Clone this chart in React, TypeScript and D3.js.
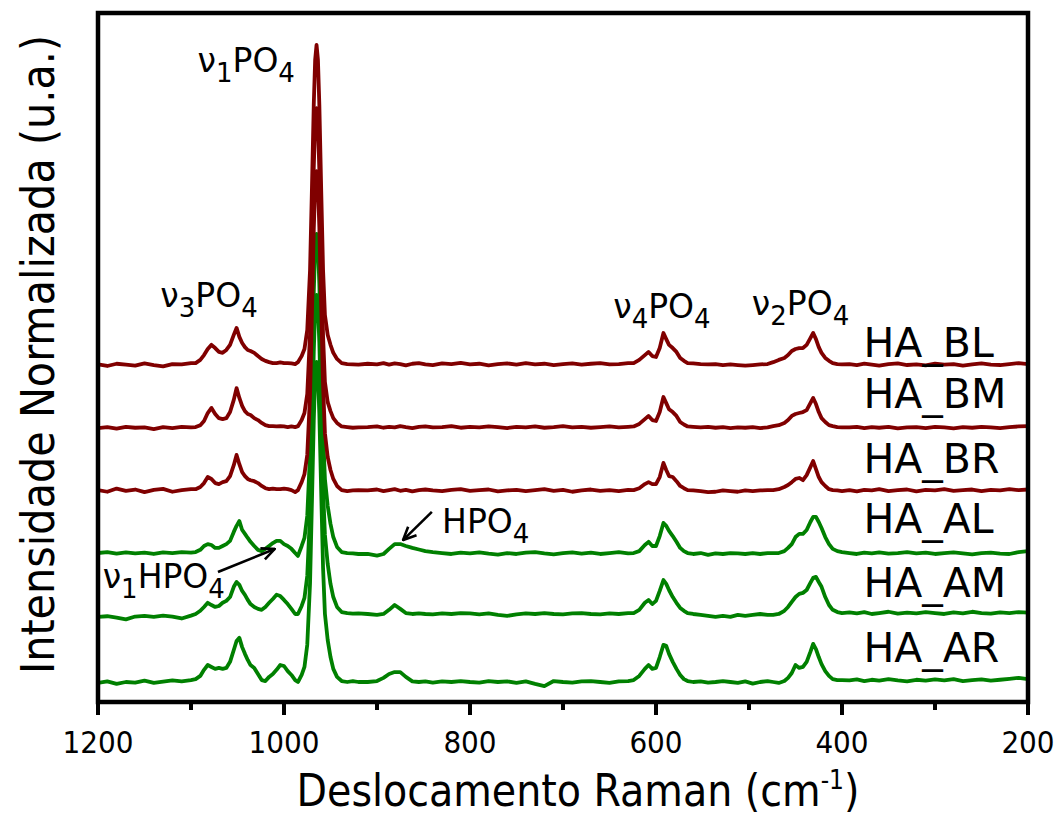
import * as d3 from 'd3';

// wavenumber grid (cm-1), shared by all spectra
const WAVENUMBER = [
  1200, 1190, 1180, 1170, 1160, 1150, 1140, 1130, 1120, 1110, 1100,
  1095, 1090, 1086, 1082, 1078, 1074, 1070, 1066, 1062, 1058, 1054, 1051, 1048, 1045, 1042,
  1039, 1036, 1032, 1028, 1024, 1020, 1016, 1012, 1008, 1004, 1000, 996, 992, 988,
  985, 981, 978, 975, 972, 970, 968, 966.5, 965, 963.5, 962, 960, 958, 956, 953, 950,
  947, 943, 938, 932, 926, 920,
  910, 900, 893, 887, 881, 875, 869, 862, 855, 848, 840, 830,
  820, 810, 800, 790, 780, 770, 760, 750, 740, 730, 720, 710, 700, 690, 680, 670, 660, 650, 640, 630,
  624, 618, 612, 608, 604, 600, 596, 592, 589, 586, 582, 578, 574, 570, 566, 560, 552, 544,
  536, 528, 520, 512, 504, 496, 488, 480,
  474, 468, 462, 458, 454, 450, 446, 442, 438, 434, 431, 428, 425, 422, 418, 414, 410, 405, 400,
  392, 384, 376, 368, 360, 350, 340, 330, 320, 310, 300, 290, 280, 270, 260, 250, 240, 230, 220, 210, 200,
];

// normalized intensity (%), relative to each spectrum's baseline
const HA_BL = [
  0.2, -0.3, 0.4, 0.1, -0.2, 0.5, 0.0, -0.4, 0.3, 0.2, 0.6,
  0.6, 1.6, 3.1, 5.0, 6.3, 5.3, 4.1, 3.8, 4.7, 6.3, 9.4, 11.6, 8.8, 6.9, 5.6,
  4.7, 4.4, 3.8, 2.8, 1.9, 1.3, 0.9, 0.6, 0.6, 0.8, 0.6, 0.6, 0.5, 0.3,
  0.9, 2.8, 5.0, 10.9, 29.7, 54.7, 81.3, 95.3, 100, 95.3, 81.3, 54.7, 29.7, 15.6, 9.4,
  6.3, 3.8, 1.9, 0.6, 0.3, 0.2, 0.1,
  0.4, 0.2, 0.6, 0.1, 0.5, 0.3, -0.1, 0.4, 0.6, 0.2, 0.0, 0.5,
  0.3, 0.7, 0.2, 0.4, -0.1, 0.3, 0.5, 0.1, 0.6, 0.2, 0.4, 0.0, 0.3, 0.5, 0.1, 0.4, 0.6, 0.2, 0.3, 0.6,
  0.6, 1.6, 3.1, 4.1, 2.8, 2.5, 5.3, 10.0, 8.1, 6.3, 5.3, 4.1, 2.2, 1.3, 0.6, 0.5, 0.3, 0.2,
  0.3, 0.0, 0.2, 0.0, -0.2, 0.0, 0.2, 0.3,
  0.9, 1.6, 2.2, 3.1, 4.4, 5.0, 5.3, 5.3, 6.3, 8.4, 10.0, 8.1, 5.6, 3.8, 2.2, 1.3, 0.6, 0.3, 0.2,
  0.3, 0.0, 0.4, 0.1, -0.2, 0.3, 0.5, 0.0, 0.2, -0.1, 0.4, 0.1, 0.3, -0.2, 0.2, 0.5, 0.1, 0.0, 0.3, 0.6, 0.3,
];
const HA_BM = [
  0.0, 0.3, -0.2, 0.4, 0.1, 0.2, -0.3, 0.3, 0.0, 0.4, 0.2,
  0.3, 0.9, 2.2, 4.7, 6.3, 4.4, 3.1, 2.8, 3.1, 5.0, 8.8, 12.5, 9.4, 6.9, 5.3,
  4.4, 4.1, 3.1, 2.5, 1.6, 0.9, 0.6, 0.6, 0.5, 0.6, 0.5, 0.3, 0.5, 0.3,
  0.6, 2.5, 4.7, 10.6, 29.4, 54.4, 81.3, 95.3, 100, 95.0, 80.6, 53.8, 28.8, 14.4, 8.1,
  5.3, 3.1, 1.6, 0.5, 0.3, 0.1, 0.2,
  0.3, 0.5, 0.1, 0.4, 0.2, 0.6, 0.3, 0.0, 0.4, 0.5, 0.2, 0.3,
  0.6, 0.1, 0.4, 0.2, 0.5, 0.3, 0.0, 0.4, 0.2, 0.5, 0.1, 0.3, 0.6, 0.2, 0.4, 0.1, 0.3, 0.5, 0.2, 0.4,
  0.5, 1.3, 2.8, 3.8, 2.5, 2.2, 5.0, 9.7, 7.8, 5.9, 5.0, 3.8, 1.9, 1.1, 0.5, 0.4, 0.2, 0.4,
  0.1, 0.3, 0.0, 0.2, 0.1, 0.3, 0.0, 0.2,
  0.6, 0.9, 1.6, 2.5, 3.8, 4.4, 4.7, 5.0, 5.6, 7.8, 9.4, 7.5, 5.0, 3.1, 1.9, 0.9, 0.6, 0.3, 0.2,
  0.2, 0.4, 0.0, 0.3, 0.1, 0.4, -0.1, 0.2, 0.3, 0.0, 0.4, 0.2, -0.1, 0.3, 0.1, 0.4, 0.2, 0.0, 0.3, 0.5, 0.6,
];
const HA_BR = [
  0.3, -0.2, 0.8, 0.1, 0.5, -0.3, 0.4, 0.7, -0.2, 0.3, 0.6,
  0.6, 1.3, 2.5, 4.4, 3.8, 2.5, 2.2, 2.8, 3.1, 4.7, 8.1, 11.3, 8.4, 5.9, 4.7,
  3.8, 3.4, 3.1, 2.5, 1.6, 0.9, 0.6, 0.8, 0.6, 0.6, 0.8, 0.6, 0.3, -0.3,
  0.3, 2.8, 5.3, 11.3, 30.0, 55.0, 81.6, 95.3, 100, 95.6, 82.5, 57.5, 33.1, 18.1, 10.6,
  6.6, 3.8, 1.6, 0.3, 0.0, 0.2, 0.3,
  0.2, 0.5, 0.0, 0.3, 0.6, 0.1, 0.4, -0.1, 0.3, 0.5, 0.2, 0.0,
  0.4, 0.6, 0.1, 0.3, 0.5, -0.1, 0.2, 0.4, 0.0, 0.3, 0.6, 0.1, 0.4, -0.2, 0.2, 0.5, 0.1, 0.3, 0.0, 0.4,
  0.3, 0.9, 2.2, 2.8, 2.2, 2.2, 4.4, 8.8, 6.6, 4.7, 4.4, 3.1, 1.6, 0.9, 0.3, 0.2, 0.0, -0.3,
  -0.2, 0.2, 0.0, -0.2, 0.2, 0.0, 0.2, 0.3,
  0.3, 0.6, 1.3, 1.9, 2.8, 3.8, 4.1, 3.4, 5.0, 7.5, 9.4, 6.9, 4.4, 2.8, 1.6, 0.6, 0.3, 0.2, 0.0,
  0.3, -0.1, 0.4, 0.2, 0.6, 0.0, 0.3, 0.5, -0.1, 0.4, 0.2, 0.6, 0.1, 0.3, 0.5, 0.0, 0.4, 0.2, 0.6, 0.3, 0.5,
];
const HA_AL = [
  0.3, 0.6, 0.1, 0.5, 0.2, 0.4, 0.0, 0.5, 0.3, 0.6, 0.4,
  0.6, 1.3, 2.5, 3.1, 2.8, 1.9, 1.9, 2.5, 3.1, 4.1, 6.9, 8.8, 10.3, 7.5, 6.3,
  5.0, 3.8, 2.5, 1.3, 0.9, 1.6, 2.5, 3.4, 4.1, 4.1, 3.1, 2.5, 1.6, 0.3,
  -0.6, 2.5, 5.0, 11.9, 31.3, 56.3, 81.9, 95.3, 100, 96.3, 84.4, 60.9, 37.5, 23.4, 15.0,
  9.4, 5.3, 2.2, 0.6, 0.3, 0.2, 0.0,
  0.0, -0.5, 0.0, 1.6, 3.1, 3.1, 2.5, 1.9, 1.4, 0.9, 0.6, 0.3,
  0.0, 0.4, 0.2, 0.5, 0.1, -0.2, 0.3, 0.0, 0.4, 0.6, 0.2, -0.1, 0.3, 0.5, 0.1, 0.4, 0.0, 0.3, 0.6, 0.2,
  0.3, 0.9, 2.8, 3.8, 2.5, 2.5, 5.6, 9.7, 8.8, 7.2, 5.6, 3.8, 1.9, 0.9, 0.3, 0.0, 0.3, -0.3,
  0.2, 0.0, 0.3, 0.2, 0.0, 0.3, 0.0, 0.3,
  0.3, 0.3, 0.9, 1.9, 3.1, 5.3, 6.3, 6.3, 7.5, 10.0, 11.6, 11.6, 10.0, 8.1, 5.3, 3.1, 1.6, 0.9, 0.6,
  0.3, 0.0, 0.4, 0.2, 0.5, 0.1, 0.3, 0.6, 0.2, 0.4, 0.0, 0.3, 0.5, 0.2, -0.1, 0.3, 0.4, 0.1, 0.0, 0.6, 0.9,
];
const HA_AM = [
  -0.6, -0.4, -0.8, -1.4, -0.5, -0.3, -0.6, -0.2, -0.5, -1.1, -0.2,
  0.3, 1.3, 2.5, 3.8, 3.1, 2.5, 2.8, 3.8, 4.4, 5.6, 8.8, 10.3, 9.4, 7.5, 6.3,
  4.7, 3.4, 2.5, 1.9, 1.6, 2.5, 3.8, 5.0, 6.3, 5.9, 4.7, 3.4, 1.9, 0.3,
  0.3, 2.8, 5.3, 12.2, 31.6, 56.6, 82.2, 95.3, 100, 96.6, 85.0, 62.5, 39.4, 25.0, 15.9,
  9.7, 5.6, 2.5, 0.9, 0.6, 0.4, 0.5,
  0.3, 0.0, 0.3, 1.6, 3.1, 1.9, 0.6, 0.3, 0.5, 0.3, 0.2, 0.5,
  0.3, 0.6, 0.5, 0.2, 0.5, 0.0, -0.3, 0.2, 0.5, 0.3, 0.6, 0.3, 0.2, 0.5, 0.6, 0.3, 0.2, 0.5, 0.3, 0.6,
  0.6, 1.6, 3.8, 4.7, 3.4, 4.4, 7.5, 10.9, 9.7, 7.8, 5.6, 3.8, 2.2, 1.3, 0.6, 0.3, 0.0, -0.3,
  -0.6, -0.3, -0.6, 0.0, -0.3, 0.0, 0.3, 0.0,
  0.0, 0.3, 1.3, 2.5, 4.1, 5.6, 6.6, 6.9, 7.8, 10.0, 11.6, 11.9, 10.3, 8.8, 5.6, 3.1, 1.6, 0.9, 0.6,
  0.8, 0.5, 0.9, 0.3, 0.6, 1.0, 0.4, 0.7, 0.5, 0.9, 0.6, 0.3, 0.8, 0.5, 1.0, 0.6, 0.4, 0.8, 0.6, 0.9, 0.7,
];
const HA_AR = [
  -0.3, 0.2, -0.6, 0.0, -0.2, 0.4, -0.3, 0.1, 0.5, 0.2, 0.6,
  0.9, 1.9, 3.8, 5.3, 4.7, 4.1, 4.4, 4.1, 4.4, 6.3, 10.0, 12.8, 13.8, 10.9, 8.8,
  6.9, 5.3, 4.4, 2.5, 0.6, 0.3, 1.6, 2.5, 3.8, 5.3, 5.0, 3.4, 2.2, 0.6,
  0.0, 2.2, 4.7, 11.6, 30.9, 55.9, 81.6, 95.3, 100, 95.9, 83.8, 59.4, 35.6, 21.3, 13.1,
  7.8, 4.1, 1.6, 0.3, 0.0, 0.3, 0.0,
  0.0, 0.3, 1.3, 2.5, 3.1, 3.1, 1.6, 0.2, 0.0, 0.2, -0.2, 0.2,
  0.0, 0.3, 0.0, -0.2, 0.3, 0.0, 0.2, -0.3, 0.2, -0.6, -1.3, 0.3, 0.0, -0.2, 0.2, 0.3, 0.0, -0.3, 0.2, 0.3,
  0.6, 1.9, 4.1, 5.3, 4.1, 4.4, 7.8, 11.6, 11.3, 8.8, 6.3, 4.1, 2.2, 0.9, 0.3, 0.0, 0.2, -0.2,
  0.0, 0.3, 0.0, -0.3, 0.2, -0.5, 0.0, 0.3,
  0.0, -0.3, 0.3, 1.3, 2.8, 5.3, 4.4, 4.7, 6.3, 9.4, 11.9, 10.3, 7.8, 5.6, 3.4, 1.9, 0.9, 0.6, 0.6,
  0.5, 0.8, 0.3, 0.7, 0.4, 0.9, 0.5, 0.2, 0.7, 0.4, 0.8, 0.5, 0.9, 0.3, 0.6, 0.8, 0.4, 0.7, 1.0, 1.3, 0.9,
];

const SERIES_NAMES = ['HA_BL', 'HA_BM', 'HA_BR', 'HA_AL', 'HA_AM', 'HA_AR'];
const SERIES_VALUES = [HA_BL, HA_BM, HA_BR, HA_AL, HA_AM, HA_AR];
const SERIES_OFFSETS = [105.3, 85.6, 65.9, 46.25, 27.2, 6.25];
const SERIES_COLORS = ['#800000', '#800000', '#800000', '#008000', '#008000', '#008000'];
const LABEL_Y = [107.8, 91.9, 71.6, 52.8, 32.8, 12.5];
const LABEL_X = 377;

const MAJOR_TICKS = [1200, 1000, 800, 600, 400, 200];
const MINOR_TICKS = [1100, 900, 700, 500, 300];

// band annotations: [greek, index, name, x (cm-1), y (%)]
const BANDS: [string, string, string, number, number][] = [
  ['ν', '1', 'PO', 1093, 196.9],
  ['ν', '3', 'PO', 1133, 123.4],
  ['ν', '4', 'PO', 646, 120],
  ['ν', '2', 'PO', 497, 120.9],
  ['', '', 'HPO', 830, 52.8],
  ['ν', '1', 'HPO', 1195, 35.6],
];
// arrows: [x0, y0, x1, y1]
const ARROWS = [
  [1071, 40.6, 1010, 47.8],
  [841, 59.4, 872, 50.6],
];

const W = 1060;
const H = 816;
const M = { left: 98, right: 1028, top: 13, bottom: 702 };
const FONT = "'DejaVu Sans', Verdana, sans-serif";
const FONT_C = "'DejaVu Sans Condensed', 'DejaVu Sans', sans-serif";

export default function App() {
  const x = d3.scaleLinear().domain([1200, 200]).range([M.left, M.right]);
  const y = d3.scaleLinear().domain([0, 215.3]).range([M.bottom, M.top]);

  // draw green first so the red spectra sit on top at the big peak
  const order = [5, 4, 3, 2, 1, 0];

  return (
    <svg width={W} height={H} style={{ position: 'absolute', left: 0, top: 0, background: '#fff' }}>
      <defs>
        <clipPath id="plot">
          <rect x={M.left} y={M.top} width={M.right - M.left} height={M.bottom - M.top} />
        </clipPath>
        <marker id="head" viewBox="0 0 16 16" refX="15" refY="8" markerWidth="16" markerHeight="16"
          markerUnits="userSpaceOnUse" orient="auto">
          <path d="M2,2 L15,8 L2,14" fill="none" stroke="#000" strokeWidth={2.6} />
        </marker>
      </defs>
      <rect width={W} height={H} fill="#fff" />

      <g clipPath="url(#plot)">
        {order.map((s) => {
          const vals = SERIES_VALUES[s];
          const off = SERIES_OFFSETS[s];
          const line = d3.line<number>()
            .x((_, i) => x(WAVENUMBER[i]))
            .y((v) => y(v + off));
          return (
            <path key={SERIES_NAMES[s]} d={line(vals) || ''} fill="none"
              stroke={SERIES_COLORS[s]} strokeWidth={3.8} strokeLinejoin="round" strokeLinecap="round" />
          );
        })}
      </g>

      {/* frame */}
      <rect x={M.left} y={M.top} width={M.right - M.left} height={M.bottom - M.top}
        fill="none" stroke="#000" strokeWidth={4.5} />

      {/* x ticks */}
      {MAJOR_TICKS.map((t) => (
        <g key={'M' + t}>
          <line x1={x(t)} x2={x(t)} y1={M.bottom} y2={M.bottom + 13} stroke="#000" strokeWidth={4} />
          <text x={x(t)} y={753} textAnchor="middle" fontFamily={FONT_C} fontSize={31} fill="#000">{t}</text>
        </g>
      ))}
      {MINOR_TICKS.map((t) => (
        <line key={'m' + t} x1={x(t)} x2={x(t)} y1={M.bottom} y2={M.bottom + 8} stroke="#000" strokeWidth={4} />
      ))}

      {/* axis titles */}
      <text x={578} y={806} textAnchor="middle" fontFamily={FONT_C} fontSize={44} fill="#000">
        Deslocamento Raman (cm<tspan fontSize={26} dy={-17}>-1</tspan><tspan dy={17}>)</tspan>
      </text>
      <text transform={`translate(54,${(M.top + M.bottom) / 2 - 3}) rotate(-90)`} textAnchor="middle"
        fontFamily={FONT_C} fontSize={46} fill="#000">
        Intensidade Normalizada (u.a.)
      </text>

      {/* series labels */}
      {SERIES_NAMES.map((n, i) => (
        <text key={n} x={x(LABEL_X)} y={y(LABEL_Y[i])} fontFamily={FONT} fontSize={41} fill="#000">{n}</text>
      ))}

      {/* band annotations */}
      {BANDS.map(([g, idx, name, bx, by], i) => (
        <text key={i} x={x(bx)} y={y(by)} fontFamily={FONT} fontSize={33} fill="#000">
          {g}
          {idx && <tspan fontSize={26} dy={10}>{idx}</tspan>}
          <tspan dy={idx ? -10 : 0}>{name}</tspan>
          <tspan fontSize={26} dy={10}>4</tspan>
        </text>
      ))}

      {ARROWS.map(([x0, y0, x1, y1], i) => (
        <line key={i} x1={x(x0)} y1={y(y0)} x2={x(x1)} y2={y(y1)} stroke="#000" strokeWidth={2.6}
          markerEnd="url(#head)" />
      ))}
    </svg>
  );
}
